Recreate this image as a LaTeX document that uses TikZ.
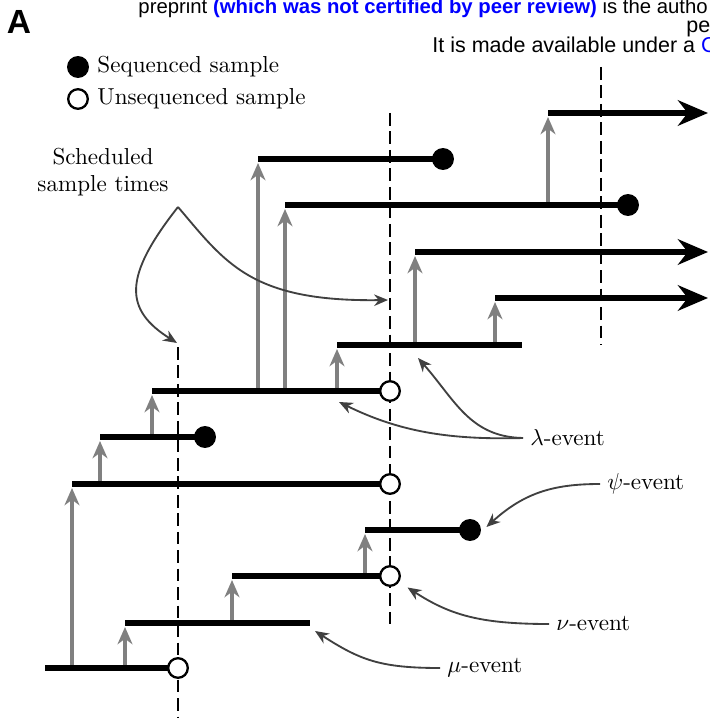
\documentclass[tikz,border=0pt]{standalone}
\usepackage{fontspec}
\newfontfamily\hdrfont{Liberation Sans}
\usetikzlibrary{arrows.meta}
\definecolor{ptrgrey}{RGB}{64,64,64}
\definecolor{birthgrey}{RGB}{128,128,128}
\definecolor{hdrblue}{RGB}{0,0,255}

\tikzset{
  lineage/.style={line width=3pt},
  lineagecont/.style={lineage, -{Stealth[length=13pt, width=11pt]}},
  birth/.style={birthgrey, line width=1.7pt, -{Stealth[length=7.5pt, width=6.5pt]}},
  sampletime/.style={line width=0.6pt, dash pattern=on 5.5pt off 2.5pt},
  pointer/.style={ptrgrey, line width=0.8pt, -{Stealth[length=6pt, width=5pt]}},
  seqdot/.style={circle, fill=black, inner sep=0pt, minimum size=9.5pt},
  unseqdot/.style={circle, draw=black, line width=1pt, fill=white, inner sep=0pt, minimum size=8.5pt},
  evlabel/.style={anchor=west, inner sep=3pt},
  hdrtext/.style={anchor=base west, inner sep=0pt, font=\hdrfont\fontsize{9.3}{11}\selectfont},
}

\begin{document}
\begin{tikzpicture}[x=0.433pt, y=-0.433pt]
    \clip (0,0) rectangle (709,718);

    % page header
    \node[font=\hdrfont\bfseries\fontsize{14.5}{17}\selectfont, inner sep=0pt] (panel) at (19,22) {A};
    \node[hdrtext, font=\hdrfont\fontsize{8.8}{11}\selectfont] (hdra) at (138,14)
      {preprint \textcolor{hdrblue}{\bfseries(which was not certified by peer review)} is the autho};
    \node[hdrtext] (hdrb) at (686,33) {pe};
    \node[hdrtext] (hdrc) at (432,53)
      {It is made available under a \textcolor{hdrblue}{C}};

    % legend
    \node[seqdot] (legseq) at (78,67) {};
    \node[anchor=west, inner sep=0pt] (legseqtxt) at (97,67) {Sequenced sample};
    \node[unseqdot] (legunseq) at (78,99) {};
    \node[anchor=west, inner sep=0pt] (legunseqtxt) at (97,99) {Unsequenced sample};

    % scheduled sample times
    \draw[sampletime] (178,347) -- (178,718);
    \draw[sampletime] (390,113) -- (390,624);
    \draw[sampletime] (601,67) -- (601,345);

    % births
    \draw[birth] (72,668) -- (72,488);
    \draw[birth] (125,668) -- (125,627);
    \draw[birth] (232,623) -- (232,580);
    \draw[birth] (365,576) -- (365,534);
    \draw[birth] (100,484) -- (100,441);
    \draw[birth] (152,437) -- (152,395);
    \draw[birth] (258,391) -- (258,163);
    \draw[birth] (285,391) -- (285,209);
    \draw[birth] (337,391) -- (337,349);
    \draw[birth] (415,345) -- (415,256);
    \draw[birth] (495,345) -- (495,302);
    \draw[birth] (548,205) -- (548,117);

    % lineages
    \draw[lineage] (45,668) -- (178,668);
    \draw[lineage] (125,623) -- (310,623);
    \draw[lineage] (232,576) -- (390,576);
    \draw[lineage] (365,530) -- (470,530);
    \draw[lineage] (72,484) -- (390,484);
    \draw[lineage] (100,437) -- (205,437);
    \draw[lineage] (152,391) -- (390,391);
    \draw[lineage] (337,345) -- (522,345);
    \draw[lineagecont] (495,298) -- (708,298);
    \draw[lineagecont] (415,252) -- (708,252);
    \draw[lineage] (285,205) -- (628,205);
    \draw[lineage] (258,159) -- (443,159);
    \draw[lineagecont] (548,113) -- (708,113);

    % samples
    \node[unseqdot] (unseqa) at (178,668) {};
    \node[unseqdot] (unseqb) at (390,576) {};
    \node[seqdot] (seqa) at (470,530) {};
    \node[unseqdot] (unseqc) at (390,484) {};
    \node[seqdot] (seqb) at (205,437) {};
    \node[unseqdot] (unseqd) at (390,391) {};
    \node[seqdot] (seqc) at (628,205) {};
    \node[seqdot] (seqd) at (443,159) {};

    % annotations
    \node[align=center] (sched) at (103,172) {Scheduled\\sample times};
    \coordinate (schedfoot) at (178,207);
    \coordinate (schedlow) at (177,343);
    \coordinate (schedmid) at (388,300);
    \draw[pointer] (schedfoot) .. controls (122,278) and (125,310) .. (schedlow);
    \draw[pointer] (schedfoot) .. controls (225,262) and (250,302) .. (schedmid);

    \node[evlabel] (lambda) at (523,438) {$\lambda$-event};
    \coordinate (lambdaa) at (339,402);
    \coordinate (lambdab) at (418,358);
    \draw[pointer] (lambda.west) .. controls (450,440) and (400,432) .. (lambdaa);
    \draw[pointer] (lambda.west) .. controls (470,437) and (455,400) .. (lambdab);

    \node[evlabel] (psi) at (600,484) {$\psi$-event};
    \draw[pointer] (psi.west) .. controls (555,484) and (525,492) .. ([shift={(5,-3)}]seqa.east);

    \node[evlabel] (nu) at (549,624) {$\nu$-event};
    \draw[pointer] (nu.west) .. controls (480,624) and (450,615) .. ([shift={(8,6)}]unseqb.-30);

    \node[evlabel] (mu) at (440,668) {$\mu$-event};
    \coordinate (mutip) at (315,631);
    \draw[pointer] (mu.west) .. controls (380,668) and (360,660) .. (mutip);
\end{tikzpicture}
\end{document}
